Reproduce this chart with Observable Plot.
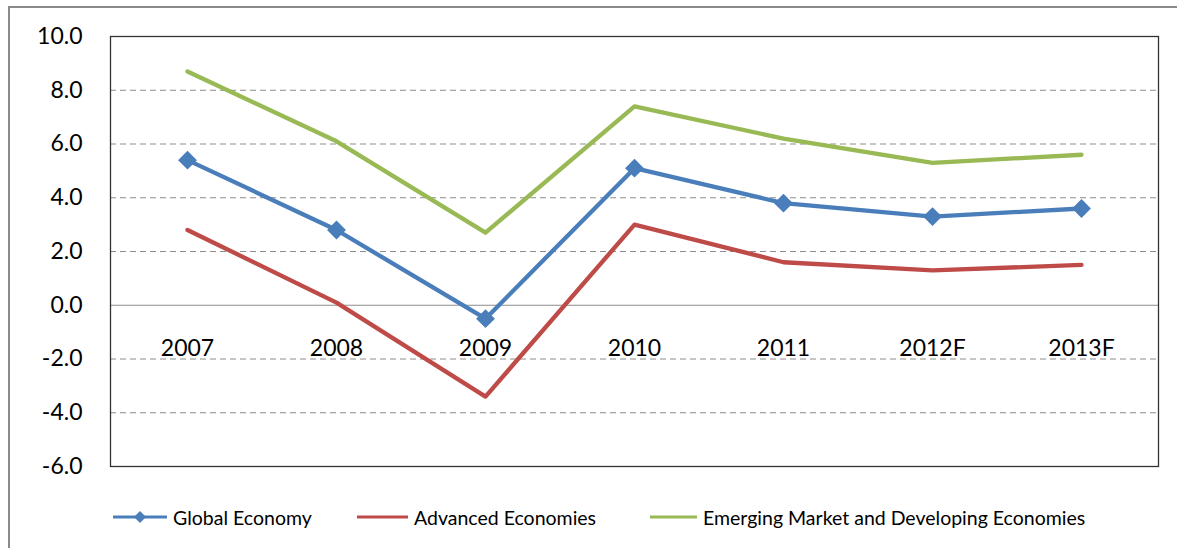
<!DOCTYPE html>
<html>
<head>
<meta charset="utf-8">
<script src="https://cdn.jsdelivr.net/npm/d3@7"></script>
<script src="https://cdn.jsdelivr.net/npm/@observablehq/plot@0.6"></script>
<style>
  html, body { margin: 0; padding: 0; background: #fff; width: 1177px; height: 548px; overflow: hidden; font-family: Lato, "Open Sans", sans-serif; }
  #border { position: absolute; left: 8px; top: 6px; width: 1200px; height: 600px; border: 2px solid #8a8a8a; box-sizing: border-box; }
  #chart { position: absolute; left: 0; top: 0; }
  #legend { position: absolute; left: 0; top: 505px; height: 24px; font-size: 19.5px; color: #000; }
  .item { position: absolute; top: 0; display: flex; align-items: center; height: 24px; white-space: nowrap; }
</style>
</head>
<body>
<div id="border"></div>
<div id="chart"></div>
<div id="legend"></div>
<script>
const years = ["2007", "2008", "2009", "2010", "2011", "2012F", "2013F"];
const seriesNames = ["Global Economy", "Advanced Economies", "Emerging Market and Developing Economies"];
const globalEconomy = [5.4, 2.8, -0.5, 5.1, 3.8, 3.3, 3.6];
const advancedEconomies = [2.8, 0.1, -3.4, 3.0, 1.6, 1.3, 1.5];
const emergingEconomies = [8.7, 6.1, 2.7, 7.4, 6.2, 5.3, 5.6];
const yTicks = [-6, -4, -2, 0, 2, 4, 6, 8, 10];
const colors = ["#4a7ebb", "#be4b48", "#98b954"];

const seriesValues = [globalEconomy, advancedEconomies, emergingEconomies];
const rows = seriesNames.flatMap((name, s) => years.map((year, i) => ({series: name, year, value: seriesValues[s][i]})));
const globalRows = rows.filter(d => d.series === seriesNames[0]);

const chart = Plot.plot({
  width: 1177,
  height: 490,
  marginLeft: 110,
  marginRight: 19,
  marginTop: 36,
  marginBottom: 24,
  style: {fontFamily: "Lato, 'Open Sans', sans-serif", background: "transparent"},
  x: {type: "point", domain: years, padding: 0.5, axis: null},
  y: {domain: [-6, 10], ticks: yTicks, tickFormat: d => d.toFixed(1), tickSize: 0, tickPadding: 28, label: null},
  color: {domain: seriesNames, range: colors},
  marks: [
    Plot.ruleY(yTicks.filter(t => t !== 0 && t !== -6 && t !== 10), {stroke: "#8c8c8c", strokeWidth: 1, strokeDasharray: "6,4", strokeOpacity: 1}),
    Plot.ruleY([0], {stroke: "#8c8c8c", strokeWidth: 1.2, strokeOpacity: 1}),
    Plot.frame({stroke: "#333", strokeWidth: 1.3}),
    Plot.axisY({ticks: yTicks, tickFormat: d => d.toFixed(1), tickSize: 0, tickPadding: 28, fontSize: 23, fill: "#000", label: null}),
    Plot.text(years, {x: d => d, y: () => 0, text: d => d, dy: 43, fontSize: 23, fill: "#000"}),
    Plot.line(rows, {x: "year", y: "value", z: "series", stroke: "series", strokeWidth: 4.3, strokeLinejoin: "round", strokeLinecap: "round"}),
    Plot.dot(globalRows, {x: "year", y: "value", symbol: "diamond2", r: 8.5, fill: colors[0], stroke: "none"})
  ]
});
document.getElementById("chart").appendChild(chart);

// Legend
const legend = document.getElementById("legend");
const legendX = [113, 357, 650];
const lineLen = [54, 51, 47];
seriesNames.forEach((name, i) => {
  const item = document.createElement("div");
  item.className = "item";
  item.style.left = legendX[i] + "px";
  const svgNS = "http://www.w3.org/2000/svg";
  const sw = document.createElementNS(svgNS, "svg");
  sw.setAttribute("width", lineLen[i]);
  sw.setAttribute("height", 24);
  sw.style.marginRight = "6px";
  const ln = document.createElementNS(svgNS, "line");
  ln.setAttribute("x1", 0); ln.setAttribute("x2", lineLen[i]);
  ln.setAttribute("y1", 12); ln.setAttribute("y2", 12);
  ln.setAttribute("stroke", colors[i]); ln.setAttribute("stroke-width", 3);
  sw.appendChild(ln);
  if (i === 0) {
    const dm = document.createElementNS(svgNS, "path");
    const c = lineLen[i] / 2;
    dm.setAttribute("d", `M${c},6 L${c + 6},12 L${c},18 L${c - 6},12 Z`);
    dm.setAttribute("fill", colors[i]);
    sw.appendChild(dm);
  }
  item.appendChild(sw);
  const t = document.createElement("span");
  t.textContent = name;
  item.appendChild(t);
  legend.appendChild(item);
});
</script>
</body>
</html>
